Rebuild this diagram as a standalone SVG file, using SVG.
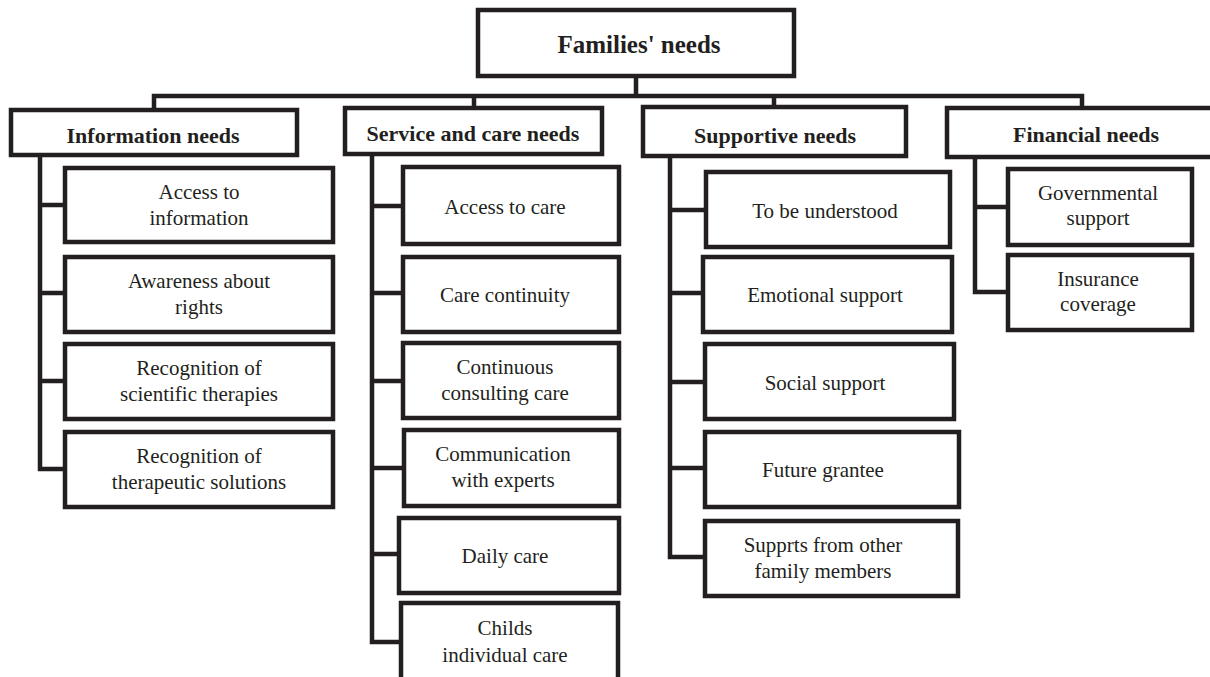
<svg xmlns="http://www.w3.org/2000/svg" width="1210" height="677" viewBox="0 0 1210 677">
<style>
.box{fill:#fff;stroke:#231f20;stroke-width:4.5;}
.ln{fill:none;stroke:#231f20;stroke-width:4.5;stroke-linejoin:miter;}
.t{font-family:"Liberation Serif",serif;font-size:21px;fill:#231f20;text-anchor:middle;}
.h{font-family:"Liberation Serif",serif;font-size:22px;font-weight:bold;fill:#231f20;text-anchor:middle;}
.r{font-family:"Liberation Serif",serif;font-size:25px;font-weight:bold;fill:#231f20;text-anchor:middle;}
</style>
<rect width="1210" height="677" fill="#fff"/>
<g id="connectors">
<path class="ln" d="M636,76 V96 M154,110 V96 H1082 V108 M474,96 V108 M774,96 V107"/>
<path class="ln" d="M40,155 V469 H65 M40,205 H65 M40,293 H65 M40,381 H65"/>
<path class="ln" d="M372,154 V642 H401 M372,206 H403 M372,293 H403 M372,381 H403 M372,468 H404 M372,554 H399"/>
<path class="ln" d="M670,156 V557 H705 M670,210 H706 M670,293 H703 M670,382 H705 M670,468 H705"/>
<path class="ln" d="M975,157 V292 H1008 M975,207 H1008"/>
</g>
<g id="root"><rect class="box" x="478" y="10" width="316" height="66"/><text class="r" x="639" y="53">Families' needs</text></g>
<g id="info"><rect class="box" x="11" y="110" width="286" height="45"/><text class="h" x="153" y="143">Information needs</text></g>
<g id="service"><rect class="box" x="345" y="108" width="257" height="46"/><text class="h" x="473" y="141">Service and care needs</text></g>
<g id="supportive"><rect class="box" x="643" y="107" width="263" height="49"/><text class="h" x="775" y="143">Supportive needs</text></g>
<g id="financial"><rect class="box" x="947" y="108" width="268" height="49"/><text class="h" x="1086" y="142">Financial needs</text></g>

<g id="info1"><rect class="box" x="65" y="168" width="268" height="74"/><text class="t" x="199"><tspan x="199" y="199">Access to</tspan><tspan x="199" y="225">information</tspan></text></g>
<g id="info2"><rect class="box" x="65" y="257" width="268" height="75"/><text class="t" x="199"><tspan x="199" y="288">Awareness about</tspan><tspan x="199" y="314">rights</tspan></text></g>
<g id="info3"><rect class="box" x="65" y="344" width="268" height="75"/><text class="t" x="199"><tspan x="199" y="375">Recognition of</tspan><tspan x="199" y="401">scientific therapies</tspan></text></g>
<g id="info4"><rect class="box" x="65" y="432" width="268" height="75"/><text class="t" x="199"><tspan x="199" y="463">Recognition of</tspan><tspan x="199" y="489">therapeutic solutions</tspan></text></g>

<g id="svc1"><rect class="box" x="403" y="167" width="216" height="77"/><text class="t" x="505" y="214">Access to care</text></g>
<g id="svc2"><rect class="box" x="403" y="257" width="216" height="75"/><text class="t" x="505" y="302">Care continuity</text></g>
<g id="svc3"><rect class="box" x="403" y="343" width="216" height="75"/><text class="t" x="505"><tspan x="505" y="374">Continuous</tspan><tspan x="505" y="400">consulting care</tspan></text></g>
<g id="svc4"><rect class="box" x="404" y="430" width="215" height="76"/><text class="t" x="503"><tspan x="503" y="461">Communication</tspan><tspan x="503" y="487">with experts</tspan></text></g>
<g id="svc5"><rect class="box" x="399" y="518" width="220" height="75"/><text class="t" x="505" y="563">Daily care</text></g>
<g id="svc6"><rect class="box" x="401" y="603" width="217" height="82"/><text class="t" x="505"><tspan x="505" y="635">Childs</tspan><tspan x="505" y="662">individual care</tspan></text></g>

<g id="sup1"><rect class="box" x="706" y="172" width="244" height="75"/><text class="t" x="825" y="218">To be understood</text></g>
<g id="sup2"><rect class="box" x="703" y="257" width="249" height="75"/><text class="t" x="825" y="302">Emotional support</text></g>
<g id="sup3"><rect class="box" x="705" y="344" width="249" height="75"/><text class="t" x="825" y="390">Social support</text></g>
<g id="sup4"><rect class="box" x="705" y="432" width="254" height="75"/><text class="t" x="823" y="477">Future grantee</text></g>
<g id="sup5"><rect class="box" x="705" y="521" width="253" height="75"/><text class="t" x="823"><tspan x="823" y="552">Supprts from other</tspan><tspan x="823" y="578">family members</tspan></text></g>

<g id="fin1"><rect class="box" x="1008" y="169" width="184" height="76"/><text class="t" x="1098"><tspan x="1098" y="200">Governmental</tspan><tspan x="1098" y="225">support</tspan></text></g>
<g id="fin2"><rect class="box" x="1008" y="255" width="184" height="75"/><text class="t" x="1098"><tspan x="1098" y="286">Insurance</tspan><tspan x="1098" y="311">coverage</tspan></text></g>
</svg>
